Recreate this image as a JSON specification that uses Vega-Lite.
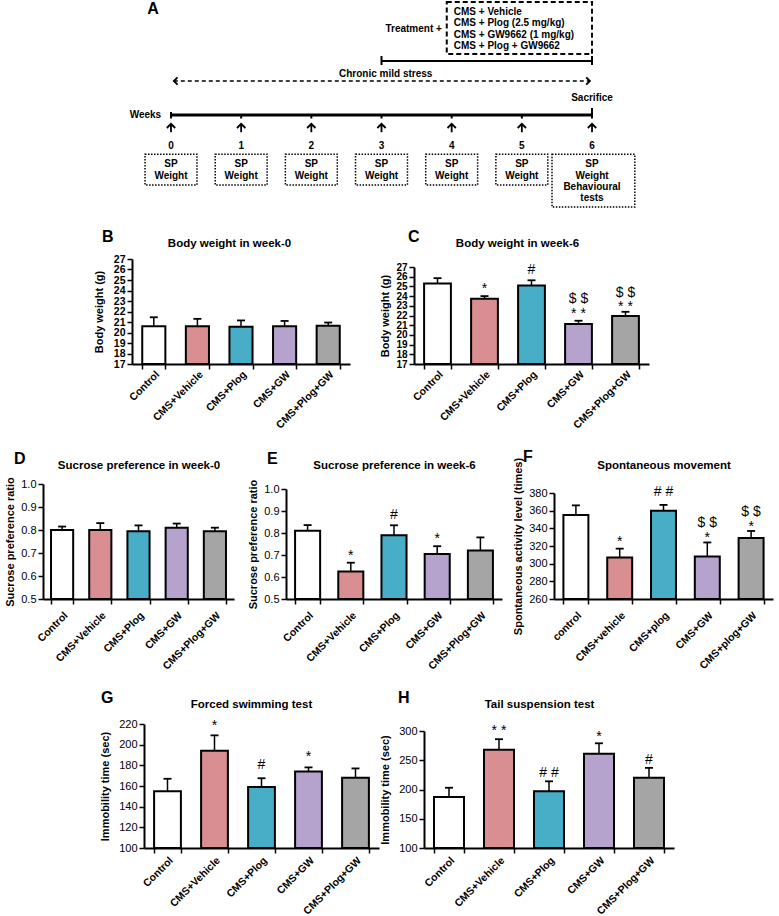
{
  "$schema": "https://vega.github.io/schema/vega-lite/v6.json",
  "background": "white",
  "padding": {"left": 4, "top": 0, "right": 0, "bottom": 0},
  "spacing": 18,
  "resolve": {"scale": {"fill": "independent"}},
  "config": {
    "font": "Liberation Sans",
    "view": {"stroke": null},
    "axis": {"domainColor": "#000", "tickColor": "#000", "labelColor": "#000", "titleColor": "#000", "grid": false,
      "labelFont": "Liberation Sans", "titleFont": "Liberation Sans", "domainWidth": 2, "tickWidth": 1.5, "tickSize": 5,
      "labelFontWeight": "bold", "titleFontWeight": "bold", "labelFontSize": 10.5, "titleFontSize": 11, "labelPadding": 2, "labelOverlap": false},
    "title": {"font": "Liberation Sans", "fontSize": 16, "fontWeight": "bold", "anchor": "start", "frame": "group", "color": "#000"},
    "text": {"font": "Liberation Sans", "color": "#000"}
  },
  "vconcat": [
    {
      "width": 737, "height": 210,
      "layer": [
        {
          "data": {"values": [{"w1": 0, "w2": 6, "r": 11.4}]},
          "mark": {"type": "rule", "strokeWidth": 3, "color": "#000"},
          "encoding": {
            "x": {"field": "w1", "type": "quantitative", "scale": {"domain": [-1.824, 8.679], "nice": false, "zero": false}, "axis": null},
            "x2": {"field": "w2"},
            "y": {"field": "r", "type": "quantitative", "scale": {"domain": [0, 21], "nice": false, "zero": false, "reverse": true}, "axis": null}
          }
        },
        {
          "data": {"values": [
            {"w1": 3, "w2": 6, "r1": 6.0, "r2": 6.0},
            {"w1": 3, "w2": 3, "r1": 5.5, "r2": 6.4},
            {"w1": 6, "w2": 6, "r1": 5.5, "r2": 6.4},
            {"w1": 0, "w2": 0, "r1": 11.1, "r2": 11.75},
            {"w1": 6, "w2": 6, "r1": 10.7, "r2": 11.75},
            {"w1": 1, "w2": 1, "r1": 11.4, "r2": 11.75},
            {"w1": 2, "w2": 2, "r1": 11.4, "r2": 11.75},
            {"w1": 3, "w2": 3, "r1": 11.4, "r2": 11.75},
            {"w1": 4, "w2": 4, "r1": 11.4, "r2": 11.75},
            {"w1": 5, "w2": 5, "r1": 11.4, "r2": 11.75}
          ]},
          "mark": {"type": "rule", "strokeWidth": 2, "color": "#000"},
          "encoding": {
            "x": {"field": "w1", "type": "quantitative", "scale": {"domain": [-1.824, 8.679], "nice": false, "zero": false}, "axis": null},
            "x2": {"field": "w2"},
            "y": {"field": "r1", "type": "quantitative", "scale": {"domain": [0, 21], "nice": false, "zero": false, "reverse": true}, "axis": null},
            "y2": {"field": "r2"}
          }
        },
        {
          "data": {"values": [{"w1": 0.04, "w2": 5.97, "r": 8.0}]},
          "mark": {"type": "rule", "strokeWidth": 1.5, "strokeDash": [4, 3], "color": "#000"},
          "encoding": {
            "x": {"field": "w1", "type": "quantitative", "scale": {"domain": [-1.824, 8.679], "nice": false, "zero": false}, "axis": null},
            "x2": {"field": "w2"},
            "y": {"field": "r", "type": "quantitative", "scale": {"domain": [0, 21], "nice": false, "zero": false, "reverse": true}, "axis": null}
          }
        },
        {
          "data": {"values": [{"w": 0.04, "r": 8.0}]},
          "mark": {"type": "point", "shape": "M1,-1L0,0L1,1", "filled": false, "size": 55, "strokeWidth": 1.8, "color": "#000", "opacity": 1},
          "encoding": {
            "x": {"field": "w", "type": "quantitative", "scale": {"domain": [-1.824, 8.679], "nice": false, "zero": false}, "axis": null},
            "y": {"field": "r", "type": "quantitative", "scale": {"domain": [0, 21], "nice": false, "zero": false, "reverse": true}, "axis": null}
          }
        },
        {
          "data": {"values": [{"w": 5.97, "r": 8.0}]},
          "mark": {"type": "point", "shape": "M-1,-1L0,0L-1,1", "filled": false, "size": 55, "strokeWidth": 1.8, "color": "#000", "opacity": 1},
          "encoding": {
            "x": {"field": "w", "type": "quantitative", "scale": {"domain": [-1.824, 8.679], "nice": false, "zero": false}, "axis": null},
            "y": {"field": "r", "type": "quantitative", "scale": {"domain": [0, 21], "nice": false, "zero": false, "reverse": true}, "axis": null}
          }
        },
        {
          "data": {"values": [{"w": 0, "r": 12.7}, {"w": 1, "r": 12.7}, {"w": 2, "r": 12.7}, {"w": 3, "r": 12.7}, {"w": 4, "r": 12.7}, {"w": 5, "r": 12.7}, {"w": 6, "r": 12.7}]},
          "mark": {"type": "point", "shape": "M-1,0L0,-1L1,0M0,-1L0,1", "filled": false, "size": 70, "strokeWidth": 1.8, "color": "#000", "opacity": 1},
          "encoding": {
            "x": {"field": "w", "type": "quantitative", "scale": {"domain": [-1.824, 8.679], "nice": false, "zero": false}, "axis": null},
            "y": {"field": "r", "type": "quantitative", "scale": {"domain": [0, 21], "nice": false, "zero": false, "reverse": true}, "axis": null}
          }
        },
        {
          "data": {"values": [{"w1": 3.93, "w2": 6.0, "r1": 0.1, "r2": 5.3}]},
          "mark": {"type": "rect", "fill": null, "fillOpacity": 0, "stroke": "#000", "strokeWidth": 2, "strokeDash": [5, 3]},
          "encoding": {
            "x": {"field": "w1", "type": "quantitative", "scale": {"domain": [-1.824, 8.679], "nice": false, "zero": false}, "axis": null},
            "x2": {"field": "w2"},
            "y": {"field": "r1", "type": "quantitative", "scale": {"domain": [0, 21], "nice": false, "zero": false, "reverse": true}, "axis": null},
            "y2": {"field": "r2"}
          }
        },
        {
          "data": {"values": [
            {"w1": -0.37, "w2": 0.37, "r1": 15.33, "r2": 18.4},
            {"w1": 0.63, "w2": 1.37, "r1": 15.33, "r2": 18.4},
            {"w1": 1.63, "w2": 2.37, "r1": 15.33, "r2": 18.4},
            {"w1": 2.63, "w2": 3.37, "r1": 15.33, "r2": 18.4},
            {"w1": 3.63, "w2": 4.37, "r1": 15.33, "r2": 18.4},
            {"w1": 4.63, "w2": 5.37, "r1": 15.33, "r2": 18.4},
            {"w1": 5.43, "w2": 6.61, "r1": 15.33, "r2": 20.6}
          ]},
          "mark": {"type": "rect", "fill": null, "fillOpacity": 0, "stroke": "#000", "strokeWidth": 1.5, "strokeDash": [1.5, 1.5]},
          "encoding": {
            "x": {"field": "w1", "type": "quantitative", "scale": {"domain": [-1.824, 8.679], "nice": false, "zero": false}, "axis": null},
            "x2": {"field": "w2"},
            "y": {"field": "r1", "type": "quantitative", "scale": {"domain": [0, 21], "nice": false, "zero": false, "reverse": true}, "axis": null},
            "y2": {"field": "r2"}
          }
        },
        {
          "data": {"values": [
            {"w": 0, "r": 14.53, "t": "0"}, {"w": 1, "r": 14.53, "t": "1"}, {"w": 2, "r": 14.53, "t": "2"}, {"w": 3, "r": 14.53, "t": "3"},
            {"w": 4, "r": 14.53, "t": "4"}, {"w": 5, "r": 14.53, "t": "5"}, {"w": 6, "r": 14.53, "t": "6"},
            {"w": 0, "r": 16.33, "t": "SP"}, {"w": 1, "r": 16.33, "t": "SP"}, {"w": 2, "r": 16.33, "t": "SP"}, {"w": 3, "r": 16.33, "t": "SP"},
            {"w": 4, "r": 16.33, "t": "SP"}, {"w": 5, "r": 16.33, "t": "SP"}, {"w": 6, "r": 16.33, "t": "SP"},
            {"w": 0, "r": 17.47, "t": "Weight"}, {"w": 1, "r": 17.47, "t": "Weight"}, {"w": 2, "r": 17.47, "t": "Weight"}, {"w": 3, "r": 17.47, "t": "Weight"},
            {"w": 4, "r": 17.47, "t": "Weight"}, {"w": 5, "r": 17.47, "t": "Weight"}, {"w": 6, "r": 17.47, "t": "Weight"},
            {"w": 6, "r": 18.55, "t": "Behavioural"}, {"w": 6, "r": 19.7, "t": "tests"},
            {"w": 6, "r": 9.73, "t": "Sacrifice"},
            {"w": 3.06, "r": 7.33, "t": "Chronic mild stress"}
          ]},
          "mark": {"type": "text", "fontSize": 10, "fontWeight": "bold", "align": "center", "baseline": "middle"},
          "encoding": {
            "x": {"field": "w", "type": "quantitative", "scale": {"domain": [-1.824, 8.679], "nice": false, "zero": false}, "axis": null},
            "y": {"field": "r", "type": "quantitative", "scale": {"domain": [0, 21], "nice": false, "zero": false, "reverse": true}, "axis": null},
            "text": {"field": "t"}
          }
        },
        {
          "data": {"values": [
            {"w": 4.03, "r": 1.07, "t": "CMS + Vehicle"},
            {"w": 4.03, "r": 2.23, "t": "CMS + Plog (2.5 mg/kg)"},
            {"w": 4.03, "r": 3.37, "t": "CMS + GW9662 (1 mg/kg)"},
            {"w": 4.03, "r": 4.47, "t": "CMS + Plog + GW9662"}
          ]},
          "mark": {"type": "text", "fontSize": 10, "fontWeight": "bold", "align": "left", "baseline": "middle"},
          "encoding": {
            "x": {"field": "w", "type": "quantitative", "scale": {"domain": [-1.824, 8.679], "nice": false, "zero": false}, "axis": null},
            "y": {"field": "r", "type": "quantitative", "scale": {"domain": [0, 21], "nice": false, "zero": false, "reverse": true}, "axis": null},
            "text": {"field": "t"}
          }
        },
        {
          "data": {"values": [
            {"w": 3.86, "r": 2.8, "t": "Treatment +"},
            {"w": -0.14, "r": 11.4, "t": "Weeks"}
          ]},
          "mark": {"type": "text", "fontSize": 10, "fontWeight": "bold", "align": "right", "baseline": "middle"},
          "encoding": {
            "x": {"field": "w", "type": "quantitative", "scale": {"domain": [-1.824, 8.679], "nice": false, "zero": false}, "axis": null},
            "y": {"field": "r", "type": "quantitative", "scale": {"domain": [0, 21], "nice": false, "zero": false, "reverse": true}, "axis": null},
            "text": {"field": "t"}
          }
        },
        {
          "data": {"values": [{"w": -0.257, "r": 0.75, "t": "A"}]},
          "mark": {"type": "text", "fontSize": 16, "fontWeight": "bold", "align": "center", "baseline": "middle"},
          "encoding": {
            "x": {"field": "w", "type": "quantitative", "scale": {"domain": [-1.824, 8.679], "nice": false, "zero": false}, "axis": null},
            "y": {"field": "r", "type": "quantitative", "scale": {"domain": [0, 21], "nice": false, "zero": false, "reverse": true}, "axis": null},
            "text": {"field": "t"}
          }
        }
      ]
    },
    {
      "hconcat": [
        {"width": 25, "height": 1, "data": {"values": []}, "mark": "point"},
        {
          "width": 218, "height": 105,
          "title": {"text": "B", "dx": -30, "offset": -8},
          "data": {"values": [
            {"group": "Control", "mean": 20.6, "err": 21.45},
            {"group": "CMS+Vehicle", "mean": 20.6, "err": 21.3},
            {"group": "CMS+Plog", "mean": 20.55, "err": 21.15},
            {"group": "CMS+GW", "mean": 20.6, "err": 21.1},
            {"group": "CMS+Plog+GW", "mean": 20.65, "err": 20.95}
          ]},
          "layer": [
            {
              "mark": {"type": "bar", "stroke": "#000", "strokeWidth": 2},
              "encoding": {
                "x": {"field": "group", "type": "nominal", "sort": null,
                  "scale": {"domain": ["Control", "CMS+Vehicle", "CMS+Plog", "CMS+GW", "CMS+Plog+GW"], "paddingInner": 0.47, "paddingOuter": 0.235},
                  "axis": {"orient": "bottom", "title": null, "labelAngle": -45, "ticks": true, "tickBand": "extent", "labelPadding": 0}},
                "y": {"field": "mean", "type": "quantitative", "title": "Body weight (g)",
                  "scale": {"domain": [17, 27], "range": [105, 0], "nice": false, "zero": false},
                  "axis": {"orient": "left", "values": [17, 18, 19, 20, 21, 22, 23, 24, 25, 26, 27], "labelOverlap": false, "titlePadding": 9, "labelFontSize": 10.5}},
                "y2": {"datum": 17},
                "fill": {"field": "group", "type": "nominal", "legend": null,
                  "scale": {"domain": ["Control", "CMS+Vehicle", "CMS+Plog", "CMS+GW", "CMS+Plog+GW"], "range": ["#ffffff", "#d98e91", "#48adc6", "#b5a3ce", "#a5a5a5"]}}
              }
            },
            {
              "mark": {"type": "rule", "strokeWidth": 1.5, "color": "#000"},
              "encoding": {
                "x": {"field": "group", "type": "nominal", "sort": null, "axis": null},
                "y": {"field": "mean", "type": "quantitative", "axis": null},
                "y2": {"field": "err"}
              }
            },
            {
              "mark": {"type": "tick", "orient": "horizontal", "size": 8, "thickness": 1.8, "color": "#000", "opacity": 1},
              "encoding": {
                "x": {"field": "group", "type": "nominal", "sort": null, "axis": {"orient": "top", "title": "Body weight in week-0", "labels": false, "ticks": false, "domain": false, "titlePadding": 11, "titleX": 97, "titleFontSize": 11.5}},
                "y": {"field": "err", "type": "quantitative", "axis": null}
              }
            }
          ],
          "resolve": {"axis": {"x": "independent", "y": "independent"}}
        },
        {
          "width": 235, "height": 105,
          "title": {"text": "C", "dx": -6, "offset": -8},
          "data": {"values": [
            {"group": "Control", "mean": 25.3, "err": 25.85},
            {"group": "CMS+Vehicle", "mean": 23.72, "err": 24.0},
            {"group": "CMS+Plog", "mean": 25.1, "err": 25.63},
            {"group": "CMS+GW", "mean": 21.12, "err": 21.46},
            {"group": "CMS+Plog+GW", "mean": 21.94, "err": 22.38}
          ]},
          "layer": [
            {
              "mark": {"type": "bar", "stroke": "#000", "strokeWidth": 2},
              "encoding": {
                "x": {"field": "group", "type": "nominal", "sort": null,
                  "scale": {"domain": ["Control", "CMS+Vehicle", "CMS+Plog", "CMS+GW", "CMS+Plog+GW"], "paddingInner": 0.43, "paddingOuter": 0.215},
                  "axis": {"orient": "bottom", "title": null, "labelAngle": -45, "ticks": true, "tickBand": "extent", "labelPadding": 0}},
                "y": {"field": "mean", "type": "quantitative", "title": "Body weight (g)",
                  "scale": {"domain": [17, 27], "range": [105, 8], "nice": false, "zero": false},
                  "axis": {"orient": "left", "values": [17, 18, 19, 20, 21, 22, 23, 24, 25, 26, 27], "labelOverlap": false, "titlePadding": 5, "labelFontSize": 10}},
                "y2": {"datum": 17},
                "fill": {"field": "group", "type": "nominal", "legend": null,
                  "scale": {"domain": ["Control", "CMS+Vehicle", "CMS+Plog", "CMS+GW", "CMS+Plog+GW"], "range": ["#ffffff", "#d98e91", "#48adc6", "#b5a3ce", "#a5a5a5"]}}
              }
            },
            {
              "mark": {"type": "rule", "strokeWidth": 1.5, "color": "#000"},
              "encoding": {
                "x": {"field": "group", "type": "nominal", "sort": null, "axis": null},
                "y": {"field": "mean", "type": "quantitative", "axis": null},
                "y2": {"field": "err"}
              }
            },
            {
              "mark": {"type": "tick", "orient": "horizontal", "size": 8, "thickness": 1.8, "color": "#000", "opacity": 1},
              "encoding": {
                "x": {"field": "group", "type": "nominal", "sort": null, "axis": {"orient": "top", "title": "Body weight in week-6", "labels": false, "ticks": false, "domain": false, "titlePadding": 11, "titleX": 103, "titleFontSize": 11.5}},
                "y": {"field": "err", "type": "quantitative", "axis": null}
              }
            },
            {
              "data": {"values": [
                {"group": "CMS+Vehicle", "pos": 24.7, "label": "*"},
                {"group": "CMS+Plog", "pos": 26.7, "label": "#"},
                {"group": "CMS+GW", "pos": 22.2, "label": "* *"},
                {"group": "CMS+GW", "pos": 23.7, "label": "$ $"},
                {"group": "CMS+Plog+GW", "pos": 22.85, "label": "* *"},
                {"group": "CMS+Plog+GW", "pos": 24.35, "label": "$ $"}
              ]},
              "mark": {"type": "text", "fontSize": 14, "baseline": "middle", "align": "center"},
              "encoding": {
                "x": {"field": "group", "type": "nominal", "sort": null, "axis": null},
                "y": {"field": "pos", "type": "quantitative", "axis": null},
                "text": {"field": "label"}
              }
            }
          ],
          "resolve": {"axis": {"x": "independent", "y": "independent"}}
        }
      ],
      "spacing": 64, "bounds": "flush",
      "resolve": {"scale": {"fill": "independent"}}
    },
    {
      "hconcat": [
        {
          "width": 191, "height": 115,
          "title": {"text": "D", "dx": -29, "offset": -8},
          "data": {"values": [
            {"group": "Control", "mean": 0.80, "err": 0.815},
            {"group": "CMS+Vehicle", "mean": 0.80, "err": 0.83},
            {"group": "CMS+Plog", "mean": 0.795, "err": 0.82},
            {"group": "CMS+GW", "mean": 0.81, "err": 0.828},
            {"group": "CMS+Plog+GW", "mean": 0.795, "err": 0.81}
          ]},
          "layer": [
            {
              "mark": {"type": "bar", "stroke": "#000", "strokeWidth": 2},
              "encoding": {
                "x": {"field": "group", "type": "nominal", "sort": null,
                  "scale": {"domain": ["Control", "CMS+Vehicle", "CMS+Plog", "CMS+GW", "CMS+Plog+GW"], "paddingInner": 0.42, "paddingOuter": 0.21},
                  "axis": {"orient": "bottom", "title": null, "labelAngle": -45, "ticks": true, "tickBand": "extent", "labelPadding": 6}},
                "y": {"field": "mean", "type": "quantitative", "title": "Sucrose preference ratio",
                  "scale": {"domain": [0.5, 1.0], "range": [115, 0], "nice": false, "zero": false},
                  "axis": {"orient": "left", "values": [0.5, 0.6, 0.7, 0.8, 0.9, 1.0], "labelOverlap": false, "format": ".1f", "titlePadding": 5, "labelFontSize": 11, "labelFontWeight": "normal"}},
                "y2": {"datum": 0.5},
                "fill": {"field": "group", "type": "nominal", "legend": null,
                  "scale": {"domain": ["Control", "CMS+Vehicle", "CMS+Plog", "CMS+GW", "CMS+Plog+GW"], "range": ["#ffffff", "#d98e91", "#48adc6", "#b5a3ce", "#a5a5a5"]}}
              }
            },
            {
              "mark": {"type": "rule", "strokeWidth": 1.5, "color": "#000"},
              "encoding": {
                "x": {"field": "group", "type": "nominal", "sort": null, "axis": null},
                "y": {"field": "mean", "type": "quantitative", "axis": null},
                "y2": {"field": "err"}
              }
            },
            {
              "mark": {"type": "tick", "orient": "horizontal", "size": 8, "thickness": 1.8, "color": "#000", "opacity": 1},
              "encoding": {
                "x": {"field": "group", "type": "nominal", "sort": null, "axis": {"orient": "top", "title": "Sucrose preference in week-0", "labels": false, "ticks": false, "domain": false, "titlePadding": 14, "titleFontSize": 11.5}},
                "y": {"field": "err", "type": "quantitative", "axis": null}
              }
            }
          ],
          "resolve": {"axis": {"x": "independent", "y": "independent"}}
        },
        {
          "width": 216, "height": 115,
          "title": {"text": "E", "dx": -19, "offset": -8},
          "data": {"values": [
            {"group": "Control", "mean": 0.81, "err": 0.836},
            {"group": "CMS+Vehicle", "mean": 0.625, "err": 0.665},
            {"group": "CMS+Plog", "mean": 0.79, "err": 0.835},
            {"group": "CMS+GW", "mean": 0.705, "err": 0.74},
            {"group": "CMS+Plog+GW", "mean": 0.72, "err": 0.78}
          ]},
          "layer": [
            {
              "mark": {"type": "bar", "stroke": "#000", "strokeWidth": 2},
              "encoding": {
                "x": {"field": "group", "type": "nominal", "sort": null,
                  "scale": {"domain": ["Control", "CMS+Vehicle", "CMS+Plog", "CMS+GW", "CMS+Plog+GW"], "paddingInner": 0.42, "paddingOuter": 0.21},
                  "axis": {"orient": "bottom", "title": null, "labelAngle": -45, "ticks": true, "tickBand": "extent", "labelPadding": 6}},
                "y": {"field": "mean", "type": "quantitative", "title": "Sucrose preference ratio",
                  "scale": {"domain": [0.5, 1.0], "range": [115, 5], "nice": false, "zero": false},
                  "axis": {"orient": "left", "values": [0.5, 0.6, 0.7, 0.8, 0.9, 1.0], "labelOverlap": false, "format": ".1f", "titlePadding": 5, "labelFontSize": 11, "labelFontWeight": "normal"}},
                "y2": {"datum": 0.5},
                "fill": {"field": "group", "type": "nominal", "legend": null,
                  "scale": {"domain": ["Control", "CMS+Vehicle", "CMS+Plog", "CMS+GW", "CMS+Plog+GW"], "range": ["#ffffff", "#d98e91", "#48adc6", "#b5a3ce", "#a5a5a5"]}}
              }
            },
            {
              "mark": {"type": "rule", "strokeWidth": 1.5, "color": "#000"},
              "encoding": {
                "x": {"field": "group", "type": "nominal", "sort": null, "axis": null},
                "y": {"field": "mean", "type": "quantitative", "axis": null},
                "y2": {"field": "err"}
              }
            },
            {
              "mark": {"type": "tick", "orient": "horizontal", "size": 8, "thickness": 1.8, "color": "#000", "opacity": 1},
              "encoding": {
                "x": {"field": "group", "type": "nominal", "sort": null, "axis": {"orient": "top", "title": "Sucrose preference in week-6", "labels": false, "ticks": false, "domain": false, "titlePadding": 14, "titleFontSize": 11.5}},
                "y": {"field": "err", "type": "quantitative", "axis": null}
              }
            },
            {
              "data": {"values": [
                {"group": "CMS+Vehicle", "pos": 0.697, "label": "*"},
                {"group": "CMS+Plog", "pos": 0.88, "label": "#"},
                {"group": "CMS+GW", "pos": 0.772, "label": "*"}
              ]},
              "mark": {"type": "text", "fontSize": 14, "baseline": "middle", "align": "center"},
              "encoding": {
                "x": {"field": "group", "type": "nominal", "sort": null, "axis": null},
                "y": {"field": "pos", "type": "quantitative", "axis": null},
                "text": {"field": "label"}
              }
            }
          ],
          "resolve": {"axis": {"x": "independent", "y": "independent"}}
        },
        {
          "width": 219, "height": 115,
          "title": {"text": "F", "dx": -31, "offset": -8},
          "data": {"values": [
            {"group": "control", "mean": 355, "err": 366},
            {"group": "CMS+vehicle", "mean": 307, "err": 317},
            {"group": "CMS+plog", "mean": 360, "err": 366.5},
            {"group": "CMS+GW", "mean": 308, "err": 324},
            {"group": "CMS+plog+GW", "mean": 329, "err": 337}
          ]},
          "layer": [
            {
              "mark": {"type": "bar", "stroke": "#000", "strokeWidth": 2},
              "encoding": {
                "x": {"field": "group", "type": "nominal", "sort": null,
                  "scale": {"domain": ["control", "CMS+vehicle", "CMS+plog", "CMS+GW", "CMS+plog+GW"], "paddingInner": 0.43, "paddingOuter": 0.215},
                  "axis": {"orient": "bottom", "title": null, "labelAngle": -45, "ticks": true, "tickBand": "extent", "labelPadding": 6}},
                "y": {"field": "mean", "type": "quantitative", "title": "Spontaneous activity level (times)",
                  "scale": {"domain": [260, 380], "range": [115, 9], "nice": false, "zero": false},
                  "axis": {"orient": "left", "values": [260, 280, 300, 320, 340, 360, 380], "labelOverlap": false, "titlePadding": 5, "labelFontSize": 11, "labelFontWeight": "normal"}},
                "y2": {"datum": 260},
                "fill": {"field": "group", "type": "nominal", "legend": null,
                  "scale": {"domain": ["control", "CMS+vehicle", "CMS+plog", "CMS+GW", "CMS+plog+GW"], "range": ["#ffffff", "#d98e91", "#48adc6", "#b5a3ce", "#a5a5a5"]}}
              }
            },
            {
              "mark": {"type": "rule", "strokeWidth": 1.5, "color": "#000"},
              "encoding": {
                "x": {"field": "group", "type": "nominal", "sort": null, "axis": null},
                "y": {"field": "mean", "type": "quantitative", "axis": null},
                "y2": {"field": "err"}
              }
            },
            {
              "mark": {"type": "tick", "orient": "horizontal", "size": 8, "thickness": 1.8, "color": "#000", "opacity": 1},
              "encoding": {
                "x": {"field": "group", "type": "nominal", "sort": null, "axis": {"orient": "top", "title": "Spontaneous movement", "labels": false, "ticks": false, "domain": false, "titlePadding": 14, "titleFontSize": 11.5}},
                "y": {"field": "err", "type": "quantitative", "axis": null}
              }
            },
            {
              "data": {"values": [
                {"group": "CMS+vehicle", "pos": 325, "label": "*"},
                {"group": "CMS+plog", "pos": 381, "label": "# #"},
                {"group": "CMS+GW", "pos": 329.5, "label": "*"},
                {"group": "CMS+GW", "pos": 346, "label": "$ $"},
                {"group": "CMS+plog+GW", "pos": 341, "label": "*"},
                {"group": "CMS+plog+GW", "pos": 358.5, "label": "$ $"}
              ]},
              "mark": {"type": "text", "fontSize": 14, "baseline": "middle", "align": "center"},
              "encoding": {
                "x": {"field": "group", "type": "nominal", "sort": null, "axis": null},
                "y": {"field": "pos", "type": "quantitative", "axis": null},
                "text": {"field": "label"}
              }
            }
          ],
          "resolve": {"axis": {"x": "independent", "y": "independent"}}
        }
      ],
      "spacing": 52, "bounds": "flush",
      "resolve": {"scale": {"fill": "independent"}}
    },
    {
      "hconcat": [
        {"width": 56, "height": 1, "data": {"values": []}, "mark": "point"},
        {
          "width": 235, "height": 124,
          "title": {"text": "G", "dx": -43, "offset": -8},
          "data": {"values": [
            {"group": "Control", "mean": 155, "err": 167},
            {"group": "CMS+Vehicle", "mean": 194, "err": 209},
            {"group": "CMS+Plog", "mean": 159, "err": 167.5},
            {"group": "CMS+GW", "mean": 174, "err": 178},
            {"group": "CMS+Plog+GW", "mean": 168, "err": 177}
          ]},
          "layer": [
            {
              "mark": {"type": "bar", "stroke": "#000", "strokeWidth": 2},
              "encoding": {
                "x": {"field": "group", "type": "nominal", "sort": null,
                  "scale": {"domain": ["Control", "CMS+Vehicle", "CMS+Plog", "CMS+GW", "CMS+Plog+GW"], "paddingInner": 0.43, "paddingOuter": 0.215},
                  "axis": {"orient": "bottom", "title": null, "labelAngle": -45, "ticks": true, "tickBand": "extent", "labelPadding": 2}},
                "y": {"field": "mean", "type": "quantitative", "title": "Immobility time (sec)",
                  "scale": {"domain": [100, 220], "range": [124, 0], "nice": false, "zero": false},
                  "axis": {"orient": "left", "values": [100, 120, 140, 160, 180, 200, 220], "labelOverlap": false, "titlePadding": 8, "labelFontSize": 11, "labelFontWeight": "normal"}},
                "y2": {"datum": 100},
                "fill": {"field": "group", "type": "nominal", "legend": null,
                  "scale": {"domain": ["Control", "CMS+Vehicle", "CMS+Plog", "CMS+GW", "CMS+Plog+GW"], "range": ["#ffffff", "#d98e91", "#48adc6", "#b5a3ce", "#a5a5a5"]}}
              }
            },
            {
              "mark": {"type": "rule", "strokeWidth": 1.5, "color": "#000"},
              "encoding": {
                "x": {"field": "group", "type": "nominal", "sort": null, "axis": null},
                "y": {"field": "mean", "type": "quantitative", "axis": null},
                "y2": {"field": "err"}
              }
            },
            {
              "mark": {"type": "tick", "orient": "horizontal", "size": 8, "thickness": 1.8, "color": "#000", "opacity": 1},
              "encoding": {
                "x": {"field": "group", "type": "nominal", "sort": null, "axis": {"orient": "top", "title": "Forced swimming test", "labels": false, "ticks": false, "domain": false, "titlePadding": 15, "titleX": 107, "titleFontSize": 11.5}},
                "y": {"field": "err", "type": "quantitative", "axis": null}
              }
            },
            {
              "data": {"values": [
                {"group": "CMS+Vehicle", "pos": 218, "label": "*"},
                {"group": "CMS+Plog", "pos": 180, "label": "#"},
                {"group": "CMS+GW", "pos": 188, "label": "*"}
              ]},
              "mark": {"type": "text", "fontSize": 14, "baseline": "middle", "align": "center"},
              "encoding": {
                "x": {"field": "group", "type": "nominal", "sort": null, "axis": null},
                "y": {"field": "pos", "type": "quantitative", "axis": null},
                "text": {"field": "label"}
              }
            }
          ],
          "resolve": {"axis": {"x": "independent", "y": "independent"}}
        },
        {
          "width": 250, "height": 124,
          "title": {"text": "H", "dx": -26, "offset": -8},
          "data": {"values": [
            {"group": "Control", "mean": 187, "err": 203},
            {"group": "CMS+Vehicle", "mean": 268, "err": 286},
            {"group": "CMS+Plog", "mean": 197, "err": 214},
            {"group": "CMS+GW", "mean": 261, "err": 279},
            {"group": "CMS+Plog+GW", "mean": 220, "err": 237}
          ]},
          "layer": [
            {
              "mark": {"type": "bar", "stroke": "#000", "strokeWidth": 2},
              "encoding": {
                "x": {"field": "group", "type": "nominal", "sort": null,
                  "scale": {"domain": ["Control", "CMS+Vehicle", "CMS+Plog", "CMS+GW", "CMS+Plog+GW"], "paddingInner": 0.4, "paddingOuter": 0.2},
                  "axis": {"orient": "bottom", "title": null, "labelAngle": -45, "ticks": true, "tickBand": "extent", "labelPadding": 2}},
                "y": {"field": "mean", "type": "quantitative", "title": "Immobility time (sec)",
                  "scale": {"domain": [100, 300], "range": [124, 7], "nice": false, "zero": false},
                  "axis": {"orient": "left", "values": [100, 150, 200, 250, 300], "labelOverlap": false, "titlePadding": 8, "labelFontSize": 11, "labelFontWeight": "normal"}},
                "y2": {"datum": 100},
                "fill": {"field": "group", "type": "nominal", "legend": null,
                  "scale": {"domain": ["Control", "CMS+Vehicle", "CMS+Plog", "CMS+GW", "CMS+Plog+GW"], "range": ["#ffffff", "#d98e91", "#48adc6", "#b5a3ce", "#a5a5a5"]}}
              }
            },
            {
              "mark": {"type": "rule", "strokeWidth": 1.5, "color": "#000"},
              "encoding": {
                "x": {"field": "group", "type": "nominal", "sort": null, "axis": null},
                "y": {"field": "mean", "type": "quantitative", "axis": null},
                "y2": {"field": "err"}
              }
            },
            {
              "mark": {"type": "tick", "orient": "horizontal", "size": 8, "thickness": 1.8, "color": "#000", "opacity": 1},
              "encoding": {
                "x": {"field": "group", "type": "nominal", "sort": null, "axis": {"orient": "top", "title": "Tail suspension test", "labels": false, "ticks": false, "domain": false, "titlePadding": 15, "titleX": 115, "titleFontSize": 11.5}},
                "y": {"field": "err", "type": "quantitative", "axis": null}
              }
            },
            {
              "data": {"values": [
                {"group": "CMS+Vehicle", "pos": 300, "label": "* *"},
                {"group": "CMS+Plog", "pos": 229, "label": "# #"},
                {"group": "CMS+GW", "pos": 290, "label": "*"},
                {"group": "CMS+Plog+GW", "pos": 250, "label": "#"}
              ]},
              "mark": {"type": "text", "fontSize": 14, "baseline": "middle", "align": "center"},
              "encoding": {
                "x": {"field": "group", "type": "nominal", "sort": null, "axis": null},
                "y": {"field": "pos", "type": "quantitative", "axis": null},
                "text": {"field": "label"}
              }
            }
          ],
          "resolve": {"axis": {"x": "independent", "y": "independent"}}
        }
      ],
      "spacing": 45, "bounds": "flush",
      "resolve": {"scale": {"fill": "independent"}}
    }
  ]
}
